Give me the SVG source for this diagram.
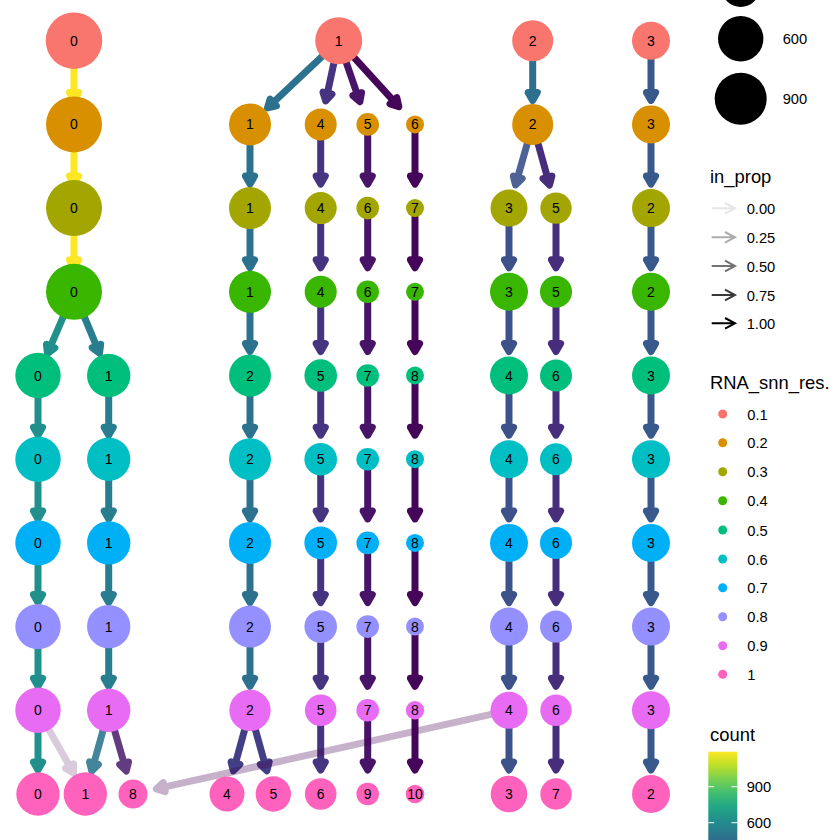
<svg xmlns="http://www.w3.org/2000/svg" xmlns:xlink="http://www.w3.org/1999/xlink" width="840" height="840" viewBox="0 0 840 840">
<style>
text{font-family:"Liberation Sans",Arial,sans-serif;fill:#000}
.lbl{font-size:14px;text-anchor:middle}
.lt{font-size:14.7px}
.ttl{font-size:18.4px}
.sh{stroke-width:7;fill:none}
.l1{fill:#F8766D}.l2{fill:#D89000}.l3{fill:#A3A500}.l4{fill:#39B600}.l5{fill:#00BF7D}
.l6{fill:#00BFC4}.l7{fill:#00B0F6}.l8{fill:#9590FF}.l9{fill:#E76BF3}.l10{fill:#FF62BC}
.yel{stroke:#FDE725;fill:#FDE725}
.c1{stroke:#2C728E;fill:#2C728E}
.c2a{stroke:#2D6F8E;fill:#2D6F8E}
.c3{stroke:#38598C;fill:#38598C}
.c4{stroke:#463480;fill:#463480}
.c5{stroke:#481467;fill:#481467}
.c6{stroke:#450559;fill:#450559}
.cB{stroke:#3D528A;fill:#3D528A}
.cC{stroke:#472E7C;fill:#472E7C}
.cA0{stroke:#21908C;fill:#21908C}
.cA1{stroke:#287D8E;fill:#287D8E}
.cL{stroke:#2A768E;fill:#2A768E}
.cP{stroke:#481A6C;fill:#481A6C}
.cQ{stroke:#423F85;fill:#423F85}
.cF{stroke:#440154;fill:#440154}
.la{fill:none;stroke-width:2}
</style>
<defs>
<path id="ah" d="M-3.5,0L-11.5,-4.6L-11.5,4.6Z" stroke-width="7" stroke-linejoin="round"/>
<g id="ve"><path d="M0,0V53.2" stroke-width="7" fill="none"/><use href="#ah" transform="translate(0,63.2) rotate(90)"/></g>
<linearGradient id="vir" x1="0" y1="0" x2="0" y2="1">
<stop offset="0" stop-color="#FDE725"/><stop offset="0.1" stop-color="#BBDF27"/><stop offset="0.2" stop-color="#7AD151"/>
<stop offset="0.3" stop-color="#43BF71"/><stop offset="0.4" stop-color="#22A884"/><stop offset="0.5" stop-color="#21908C"/>
<stop offset="0.6" stop-color="#2A788E"/><stop offset="0.7" stop-color="#35608D"/><stop offset="0.8" stop-color="#414487"/>
<stop offset="0.9" stop-color="#482576"/><stop offset="1" stop-color="#440154"/>
</linearGradient>
</defs>

<g id="connectors">
<!-- 0.1 -> 0.2 -->
<use href="#ve" x="74" y="40.7" class="yel"/>
<g class="c1"><path class="sh" d="M338.7,40.7L272.18,103.47"/><use href="#ah" transform="translate(264.91,110.33) rotate(136.66)"/></g>
<g class="c4"><path class="sh" d="M338.7,40.7L327.11,94.58"/><use href="#ah" transform="translate(325.01,104.36) rotate(102.14)"/></g>
<g class="c5"><path class="sh" d="M338.7,40.7L357.71,95.58"/><use href="#ah" transform="translate(360.99,105.03) rotate(70.88)"/></g>
<g class="c6"><path class="sh" d="M338.7,40.7L394.45,101.86"/><use href="#ah" transform="translate(401.19,109.25) rotate(47.64)"/></g>
<use href="#ve" x="532.7" y="40.7" class="c2a"/>
<use href="#ve" x="651" y="40.7" class="c3"/>
<!-- 0.2 -> 0.3 -->
<use href="#ve" x="74" y="124.4" class="yel"/>
<use href="#ve" x="250" y="124.4" class="c1"/>
<use href="#ve" x="320.7" y="124.4" class="c4"/>
<use href="#ve" x="367.7" y="124.4" class="c5"/>
<use href="#ve" x="415" y="124.4" class="c6"/>
<g class="cB" opacity="0.9"><path class="sh" d="M532.7,124.4L517.3,178.75"/><use href="#ah" transform="translate(514.58,188.37) rotate(105.81)"/></g>
<g class="cC"><path class="sh" d="M532.7,124.4L547.82,178.72"/><use href="#ah" transform="translate(550.5,188.35) rotate(74.44)"/></g>
<use href="#ve" x="651" y="124.4" class="c3"/>
<!-- 0.3 -> 0.4 -->
<use href="#ve" x="74" y="208.1" class="yel"/>
<use href="#ve" x="250" y="208.1" class="c1"/>
<use href="#ve" x="320.7" y="208.1" class="c4"/>
<use href="#ve" x="367.7" y="208.1" class="c5"/>
<use href="#ve" x="415" y="208.1" class="c6"/>
<use href="#ve" x="509" y="208.1" class="cB"/>
<use href="#ve" x="556" y="208.1" class="cC"/>
<use href="#ve" x="651" y="208.1" class="c3"/>
<!-- 0.4 -> 0.5 -->
<g class="cA0"><path class="sh" d="M74,291.8L50.05,347.48"/><use href="#ah" transform="translate(46.1,356.67) rotate(113.27)"/></g>
<g class="cA1"><path class="sh" d="M74,291.8L97.02,347.32"/><use href="#ah" transform="translate(100.85,356.56) rotate(67.48)"/></g>
<use href="#ve" x="250" y="291.8" class="c1"/>
<use href="#ve" x="320.7" y="291.8" class="c4"/>
<use href="#ve" x="367.7" y="291.8" class="c5"/>
<use href="#ve" x="415" y="291.8" class="c6"/>
<use href="#ve" x="509" y="291.8" class="cB"/>
<use href="#ve" x="556" y="291.8" class="cC"/>
<use href="#ve" x="651" y="291.8" class="c3"/>
<!-- 0.5 -> 0.6 -->
<use href="#ve" x="38" y="375.5" class="cA0"/>
<use href="#ve" x="108.7" y="375.5" class="cA1"/>
<use href="#ve" x="250" y="375.5" class="c1"/>
<use href="#ve" x="320.7" y="375.5" class="c4"/>
<use href="#ve" x="367.7" y="375.5" class="c5"/>
<use href="#ve" x="415" y="375.5" class="c6"/>
<use href="#ve" x="509" y="375.5" class="cB"/>
<use href="#ve" x="556" y="375.5" class="cC"/>
<use href="#ve" x="651" y="375.5" class="c3"/>
<!-- 0.6 -> 0.7 -->
<use href="#ve" x="38" y="459.2" class="cA0"/>
<use href="#ve" x="108.7" y="459.2" class="cA1"/>
<use href="#ve" x="250" y="459.2" class="c1"/>
<use href="#ve" x="320.7" y="459.2" class="c4"/>
<use href="#ve" x="367.7" y="459.2" class="c5"/>
<use href="#ve" x="415" y="459.2" class="c6"/>
<use href="#ve" x="509" y="459.2" class="cB"/>
<use href="#ve" x="556" y="459.2" class="cC"/>
<use href="#ve" x="651" y="459.2" class="c3"/>
<!-- 0.7 -> 0.8 -->
<use href="#ve" x="38" y="542.9" class="cA0"/>
<use href="#ve" x="108.7" y="542.9" class="cA1"/>
<use href="#ve" x="250" y="542.9" class="c1"/>
<use href="#ve" x="320.7" y="542.9" class="c4"/>
<use href="#ve" x="367.7" y="542.9" class="c5"/>
<use href="#ve" x="415" y="542.9" class="c6"/>
<use href="#ve" x="509" y="542.9" class="cB"/>
<use href="#ve" x="556" y="542.9" class="cC"/>
<use href="#ve" x="651" y="542.9" class="c3"/>
<!-- 0.8 -> 0.9 -->
<use href="#ve" x="38" y="626.6" class="cA0"/>
<use href="#ve" x="108.7" y="626.6" class="cA1"/>
<use href="#ve" x="250" y="626.6" class="c1"/>
<use href="#ve" x="320.7" y="626.6" class="c4"/>
<use href="#ve" x="367.7" y="626.6" class="c5"/>
<use href="#ve" x="415" y="626.6" class="c6"/>
<use href="#ve" x="509" y="626.6" class="cB"/>
<use href="#ve" x="556" y="626.6" class="cC"/>
<use href="#ve" x="651" y="626.6" class="c3"/>
<!-- 0.9 -> 1 -->
<use href="#ve" x="38" y="710.3" class="cA0"/>
<g class="cF" opacity="0.2"><path class="sh" d="M38,710.3L70.29,767.44"/><use href="#ah" transform="translate(75.21,776.15) rotate(60.53)"/></g>
<g class="cL" opacity="0.88"><path class="sh" d="M108.7,710.3L93.51,764.63"/><use href="#ah" transform="translate(90.82,774.26) rotate(105.62)"/></g>
<g class="cP" opacity="0.85"><path class="sh" d="M108.7,710.3L124.49,764.71"/><use href="#ah" transform="translate(127.28,774.31) rotate(73.81)"/></g>
<g class="cQ"><path class="sh" d="M250,710.3L235.08,764.59"/><use href="#ah" transform="translate(232.43,774.23) rotate(105.37)"/></g>
<g class="cQ"><path class="sh" d="M250,710.3L265.12,764.62"/><use href="#ah" transform="translate(267.8,774.25) rotate(74.44)"/></g>
<use href="#ve" x="320.7" y="710.3" class="c4"/>
<use href="#ve" x="367.7" y="710.3" class="c5"/>
<use href="#ve" x="415" y="710.3" class="c6"/>
<use href="#ve" x="509" y="710.3" class="cB"/>
<use href="#ve" x="556" y="710.3" class="cC"/>
<use href="#ve" x="651" y="710.3" class="c3"/>
<g class="cF" opacity="0.3"><path class="sh" d="M509,710.3L162.77,787.38"/><use href="#ah" transform="translate(153.01,789.55) rotate(167.45)"/></g>
</g>

<!-- level 0.1 -->
<g id="n01-0"><circle class="l1" cx="74" cy="40.7" r="28.3"/><text class="lbl" x="74" y="45.7">0</text></g>
<g id="n01-1"><circle class="l1" cx="338.7" cy="40.7" r="23.5"/><text class="lbl" x="338.7" y="45.7">1</text></g>
<g id="n01-2"><circle class="l1" cx="532.7" cy="40.7" r="20.5"/><text class="lbl" x="532.7" y="45.7">2</text></g>
<g id="n01-3"><circle class="l1" cx="651" cy="40.7" r="19"/><text class="lbl" x="651" y="45.7">3</text></g>
<!-- level 0.2 -->
<g id="n02-0"><circle class="l2" cx="74" cy="124.4" r="28"/><text class="lbl" x="74" y="129.4">0</text></g>
<g id="n02-1"><circle class="l2" cx="250" cy="124.4" r="21"/><text class="lbl" x="250" y="129.4">1</text></g>
<g id="n02-4"><circle class="l2" cx="320.7" cy="124.4" r="16"/><text class="lbl" x="320.7" y="129.4">4</text></g>
<g id="n02-5"><circle class="l2" cx="367.7" cy="124.4" r="11.3"/><text class="lbl" x="367.7" y="129.4">5</text></g>
<g id="n02-6"><circle class="l2" cx="415" cy="124.4" r="9"/><text class="lbl" x="415" y="129.4">6</text></g>
<g id="n02-2"><circle class="l2" cx="532.7" cy="124.4" r="20.5"/><text class="lbl" x="532.7" y="129.4">2</text></g>
<g id="n02-3"><circle class="l2" cx="651" cy="124.4" r="19"/><text class="lbl" x="651" y="129.4">3</text></g>
<!-- level 0.3 -->
<g id="n03-0"><circle class="l3" cx="74" cy="208.1" r="28"/><text class="lbl" x="74" y="213.1">0</text></g>
<g id="n03-1"><circle class="l3" cx="250" cy="208.1" r="21"/><text class="lbl" x="250" y="213.1">1</text></g>
<g id="n03-4"><circle class="l3" cx="320.7" cy="208.1" r="16"/><text class="lbl" x="320.7" y="213.1">4</text></g>
<g id="n03-6"><circle class="l3" cx="367.7" cy="208.1" r="11.3"/><text class="lbl" x="367.7" y="213.1">6</text></g>
<g id="n03-7"><circle class="l3" cx="415" cy="208.1" r="9"/><text class="lbl" x="415" y="213.1">7</text></g>
<g id="n03-3"><circle class="l3" cx="509" cy="208.1" r="18.5"/><text class="lbl" x="509" y="213.1">3</text></g>
<g id="n03-5"><circle class="l3" cx="556" cy="208.1" r="15.7"/><text class="lbl" x="556" y="213.1">5</text></g>
<g id="n03-2"><circle class="l3" cx="651" cy="208.1" r="19"/><text class="lbl" x="651" y="213.1">2</text></g>
<!-- level 0.4 -->
<g id="n04-0"><circle class="l4" cx="74" cy="291.8" r="28"/><text class="lbl" x="74" y="296.8">0</text></g>
<g id="n04-1"><circle class="l4" cx="250" cy="291.8" r="21"/><text class="lbl" x="250" y="296.8">1</text></g>
<g id="n04-4"><circle class="l4" cx="320.7" cy="291.8" r="16"/><text class="lbl" x="320.7" y="296.8">4</text></g>
<g id="n04-6"><circle class="l4" cx="367.7" cy="291.8" r="11.3"/><text class="lbl" x="367.7" y="296.8">6</text></g>
<g id="n04-7"><circle class="l4" cx="415" cy="291.8" r="9"/><text class="lbl" x="415" y="296.8">7</text></g>
<g id="n04-3"><circle class="l4" cx="509" cy="291.8" r="19"/><text class="lbl" x="509" y="296.8">3</text></g>
<g id="n04-5"><circle class="l4" cx="556" cy="291.8" r="16"/><text class="lbl" x="556" y="296.8">5</text></g>
<g id="n04-2"><circle class="l4" cx="651" cy="291.8" r="19"/><text class="lbl" x="651" y="296.8">2</text></g>
<!-- level 0.5 -->
<g id="n05-0"><circle class="l5" cx="38" cy="375.5" r="22.7"/><text class="lbl" x="38" y="380.5">0</text></g>
<g id="n05-1"><circle class="l5" cx="108.7" cy="375.5" r="21.7"/><text class="lbl" x="108.7" y="380.5">1</text></g>
<g id="n05-2"><circle class="l5" cx="250" cy="375.5" r="21"/><text class="lbl" x="250" y="380.5">2</text></g>
<g id="n05-5"><circle class="l5" cx="320.7" cy="375.5" r="16.3"/><text class="lbl" x="320.7" y="380.5">5</text></g>
<g id="n05-7"><circle class="l5" cx="367.7" cy="375.5" r="11.3"/><text class="lbl" x="367.7" y="380.5">7</text></g>
<g id="n05-8"><circle class="l5" cx="415" cy="375.5" r="9"/><text class="lbl" x="415" y="380.5">8</text></g>
<g id="n05-4"><circle class="l5" cx="509" cy="375.5" r="19"/><text class="lbl" x="509" y="380.5">4</text></g>
<g id="n05-6"><circle class="l5" cx="556" cy="375.5" r="16"/><text class="lbl" x="556" y="380.5">6</text></g>
<g id="n05-3"><circle class="l5" cx="651" cy="375.5" r="19"/><text class="lbl" x="651" y="380.5">3</text></g>
<!-- level 0.6 -->
<g id="n06-0"><circle class="l6" cx="38" cy="459.2" r="22.7"/><text class="lbl" x="38" y="464.2">0</text></g>
<g id="n06-1"><circle class="l6" cx="108.7" cy="459.2" r="21.7"/><text class="lbl" x="108.7" y="464.2">1</text></g>
<g id="n06-2"><circle class="l6" cx="250" cy="459.2" r="21"/><text class="lbl" x="250" y="464.2">2</text></g>
<g id="n06-5"><circle class="l6" cx="320.7" cy="459.2" r="16.3"/><text class="lbl" x="320.7" y="464.2">5</text></g>
<g id="n06-7"><circle class="l6" cx="367.7" cy="459.2" r="11.3"/><text class="lbl" x="367.7" y="464.2">7</text></g>
<g id="n06-8"><circle class="l6" cx="415" cy="459.2" r="9"/><text class="lbl" x="415" y="464.2">8</text></g>
<g id="n06-4"><circle class="l6" cx="509" cy="459.2" r="19"/><text class="lbl" x="509" y="464.2">4</text></g>
<g id="n06-6"><circle class="l6" cx="556" cy="459.2" r="16"/><text class="lbl" x="556" y="464.2">6</text></g>
<g id="n06-3"><circle class="l6" cx="651" cy="459.2" r="19"/><text class="lbl" x="651" y="464.2">3</text></g>
<!-- level 0.7 -->
<g id="n07-0"><circle class="l7" cx="38" cy="542.9" r="22.7"/><text class="lbl" x="38" y="547.9">0</text></g>
<g id="n07-1"><circle class="l7" cx="108.7" cy="542.9" r="21.7"/><text class="lbl" x="108.7" y="547.9">1</text></g>
<g id="n07-2"><circle class="l7" cx="250" cy="542.9" r="21"/><text class="lbl" x="250" y="547.9">2</text></g>
<g id="n07-5"><circle class="l7" cx="320.7" cy="542.9" r="16.3"/><text class="lbl" x="320.7" y="547.9">5</text></g>
<g id="n07-7"><circle class="l7" cx="367.7" cy="542.9" r="11.3"/><text class="lbl" x="367.7" y="547.9">7</text></g>
<g id="n07-8"><circle class="l7" cx="415" cy="542.9" r="9"/><text class="lbl" x="415" y="547.9">8</text></g>
<g id="n07-4"><circle class="l7" cx="509" cy="542.9" r="19"/><text class="lbl" x="509" y="547.9">4</text></g>
<g id="n07-6"><circle class="l7" cx="556" cy="542.9" r="16"/><text class="lbl" x="556" y="547.9">6</text></g>
<g id="n07-3"><circle class="l7" cx="651" cy="542.9" r="19"/><text class="lbl" x="651" y="547.9">3</text></g>
<!-- level 0.8 -->
<g id="n08-0"><circle class="l8" cx="38" cy="626.6" r="22.7"/><text class="lbl" x="38" y="631.6">0</text></g>
<g id="n08-1"><circle class="l8" cx="108.7" cy="626.6" r="21.7"/><text class="lbl" x="108.7" y="631.6">1</text></g>
<g id="n08-2"><circle class="l8" cx="250" cy="626.6" r="21"/><text class="lbl" x="250" y="631.6">2</text></g>
<g id="n08-5"><circle class="l8" cx="320.7" cy="626.6" r="16.3"/><text class="lbl" x="320.7" y="631.6">5</text></g>
<g id="n08-7"><circle class="l8" cx="367.7" cy="626.6" r="11.3"/><text class="lbl" x="367.7" y="631.6">7</text></g>
<g id="n08-8"><circle class="l8" cx="415" cy="626.6" r="9"/><text class="lbl" x="415" y="631.6">8</text></g>
<g id="n08-4"><circle class="l8" cx="509" cy="626.6" r="19"/><text class="lbl" x="509" y="631.6">4</text></g>
<g id="n08-6"><circle class="l8" cx="556" cy="626.6" r="16"/><text class="lbl" x="556" y="631.6">6</text></g>
<g id="n08-3"><circle class="l8" cx="651" cy="626.6" r="19"/><text class="lbl" x="651" y="631.6">3</text></g>
<!-- level 0.9 -->
<g id="n09-0"><circle class="l9" cx="38" cy="710.3" r="22.7"/><text class="lbl" x="38" y="715.3">0</text></g>
<g id="n09-1"><circle class="l9" cx="108.7" cy="710.3" r="21.7"/><text class="lbl" x="108.7" y="715.3">1</text></g>
<g id="n09-2"><circle class="l9" cx="250" cy="710.3" r="20.7"/><text class="lbl" x="250" y="715.3">2</text></g>
<g id="n09-5"><circle class="l9" cx="320.7" cy="710.3" r="15.8"/><text class="lbl" x="320.7" y="715.3">5</text></g>
<g id="n09-7"><circle class="l9" cx="367.7" cy="710.3" r="11.3"/><text class="lbl" x="367.7" y="715.3">7</text></g>
<g id="n09-8"><circle class="l9" cx="415" cy="710.3" r="9.2"/><text class="lbl" x="415" y="715.3">8</text></g>
<g id="n09-4"><circle class="l9" cx="509" cy="710.3" r="18.5"/><text class="lbl" x="509" y="715.3">4</text></g>
<g id="n09-6"><circle class="l9" cx="556" cy="710.3" r="15.7"/><text class="lbl" x="556" y="715.3">6</text></g>
<g id="n09-3"><circle class="l9" cx="651" cy="710.3" r="19"/><text class="lbl" x="651" y="715.3">3</text></g>
<!-- level 1 -->
<g id="n1-0"><circle class="l10" cx="38" cy="794" r="21.7"/><text class="lbl" x="38" y="799">0</text></g>
<g id="n1-1"><circle class="l10" cx="85.3" cy="794" r="21.7"/><text class="lbl" x="85.3" y="799">1</text></g>
<g id="n1-8"><circle class="l10" cx="133" cy="794" r="14.5"/><text class="lbl" x="133" y="799">8</text></g>
<g id="n1-4"><circle class="l10" cx="227" cy="794" r="17.5"/><text class="lbl" x="227" y="799">4</text></g>
<g id="n1-5"><circle class="l10" cx="273.3" cy="794" r="17.7"/><text class="lbl" x="273.3" y="799">5</text></g>
<g id="n1-6"><circle class="l10" cx="320.7" cy="794" r="15.8"/><text class="lbl" x="320.7" y="799">6</text></g>
<g id="n1-9"><circle class="l10" cx="367.7" cy="794" r="11.3"/><text class="lbl" x="367.7" y="799">9</text></g>
<g id="n1-10"><circle class="l10" cx="415" cy="794" r="9.3"/><text class="lbl" x="415" y="799">10</text></g>
<g id="n1-3"><circle class="l10" cx="509" cy="794" r="18.3"/><text class="lbl" x="509" y="799">3</text></g>
<g id="n1-7"><circle class="l10" cx="556" cy="794" r="15.7"/><text class="lbl" x="556" y="799">7</text></g>
<g id="n1-2"><circle class="l10" cx="651" cy="794" r="19"/><text class="lbl" x="651" y="799">2</text></g>

<!-- legends -->
<g id="legend-size">
<circle cx="740.7" cy="-12" r="19" fill="#000"/>
<circle cx="740.7" cy="38.7" r="22.7" fill="#000"/>
<text class="lt" x="782.7" y="44.2">600</text>
<circle cx="740.7" cy="98.7" r="26" fill="#000"/>
<text class="lt" x="782.7" y="104.2">900</text>
</g>
<g id="legend-inprop">
<text class="ttl" x="710" y="182.7">in_prop</text>
<path class="la" stroke="#E6E6E6" d="M711.7,208.3H735M725,203L735,208.3L725,213.6"/>
<text class="lt" x="746.7" y="213.8">0.00</text>
<path class="la" stroke="#ACACAC" d="M711.7,237.3H735M725,232L735,237.3L725,242.6"/>
<text class="lt" x="746.7" y="242.8">0.25</text>
<path class="la" stroke="#737373" d="M711.7,266H735M725,260.7L735,266L725,271.3"/>
<text class="lt" x="746.7" y="271.5">0.50</text>
<path class="la" stroke="#393939" d="M711.7,295H735M725,289.7L735,295L725,300.3"/>
<text class="lt" x="746.7" y="300.5">0.75</text>
<path class="la" stroke="#000" d="M711.7,323.3H735M725,318L735,323.3L725,328.6"/>
<text class="lt" x="746.7" y="328.8">1.00</text>
</g>
<g id="legend-res">
<text class="ttl" x="710" y="389.3">RNA_snn_res.</text>
<circle class="l1" cx="722.7" cy="414" r="4.5"/><text class="lt" x="747.3" y="419.5">0.1</text>
<circle class="l2" cx="722.7" cy="442.7" r="4.5"/><text class="lt" x="747.3" y="448.2">0.2</text>
<circle class="l3" cx="722.7" cy="471.7" r="4.5"/><text class="lt" x="747.3" y="477.2">0.3</text>
<circle class="l4" cx="722.7" cy="500.7" r="4.5"/><text class="lt" x="747.3" y="506.2">0.4</text>
<circle class="l5" cx="722.7" cy="530" r="4.5"/><text class="lt" x="747.3" y="535.5">0.5</text>
<circle class="l6" cx="722.7" cy="559" r="4.5"/><text class="lt" x="747.3" y="564.5">0.6</text>
<circle class="l7" cx="722.7" cy="587.7" r="4.5"/><text class="lt" x="747.3" y="593.2">0.7</text>
<circle class="l8" cx="722.7" cy="616.7" r="4.5"/><text class="lt" x="747.3" y="622.2">0.8</text>
<circle class="l9" cx="722.7" cy="645.7" r="4.5"/><text class="lt" x="747.3" y="651.2">0.9</text>
<circle class="l10" cx="722.7" cy="674.3" r="4.5"/><text class="lt" x="747.3" y="679.8">1</text>
</g>
<g id="legend-count">
<text class="ttl" x="710" y="740.7">count</text>
<rect x="708.3" y="751.7" width="29" height="136" fill="url(#vir)"/>
<path d="M708.3,786.7h5.8M731.5,786.7h5.8M708.3,822.7h5.8M731.5,822.7h5.8" stroke="#fff" stroke-width="1"/>
<text class="lt" x="746.7" y="792.2">900</text>
<text class="lt" x="746.7" y="828.2">600</text>
</g>
</svg>
